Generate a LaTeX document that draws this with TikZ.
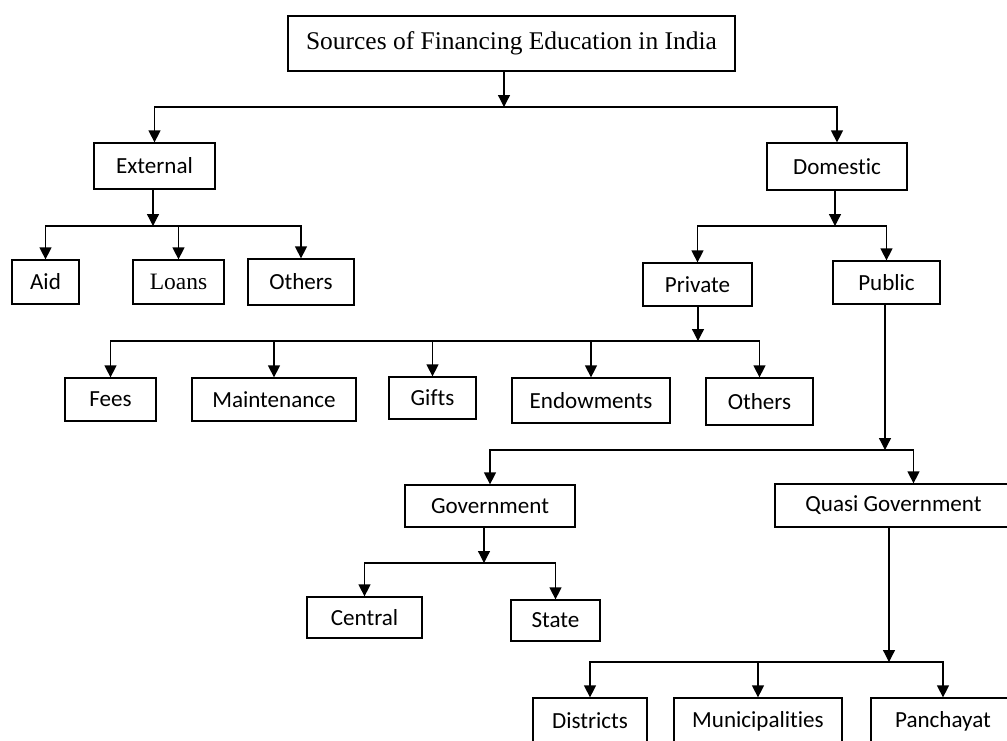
\documentclass[tikz,border=0pt]{standalone}
\usepackage{fontspec}
\setmainfont{Carlito}[Ligatures=NoCommon]
\newfontfamily\timesfont{Liberation Serif}
\usetikzlibrary{arrows.meta}

\begin{document}
\begin{tikzpicture}[x=0.75pt,y=-0.75pt,
  box/.style={draw,line width=0.95pt,inner sep=0pt,font=\fontsize{17.3}{20}\selectfont},
  arr/.style={line width=0.95pt,-{Triangle[length=9pt,width=9pt]}},
  bar/.style={line width=0.95pt,line cap=rect}]
\useasboundingbox (0,0) rectangle (1007,740);
\clip (0,0) rectangle (1007,740);

\node[box,minimum width=335.25pt,minimum height=41.25pt,font=\timesfont\fontsize{19.1}{22}\selectfont] (src) at (511.5,43.5) {Sources of Financing Education in India};

\node[box,minimum width=90.75pt,minimum height=34.5pt] (ext) at (154.5,166) {External};
\node[box,minimum width=105pt,minimum height=35.25pt] (dom) at (837,166.5) {Domestic};

\node[box,minimum width=50.25pt,minimum height=33pt] (aid) at (45.5,282) {Aid};
\node[box,minimum width=68.25pt,minimum height=33pt,font=\timesfont\fontsize{17.6}{20}\selectfont] (loans) at (178.5,282) {Loans};
\node[box,minimum width=79.5pt,minimum height=34.5pt] (extoth) at (301,282) {Others};

\node[box,minimum width=81.75pt,minimum height=32.25pt] (priv) at (697.5,284.5) {Private};
\node[box,minimum width=80.25pt,minimum height=32.25pt] (pub) at (886.5,282.5) {Public};

\node[box,minimum width=68.25pt,minimum height=32.25pt] (fees) at (110.5,399.5) {Fees};
\node[box,minimum width=123pt,minimum height=32.25pt] (maint) at (274,399.5) {Maintenance};
\node[box,minimum width=65.25pt,minimum height=31.5pt] (gifts) at (432.5,398) {Gifts};
\node[box,minimum width=118.5pt,minimum height=33.75pt] (endow) at (591,400.5) {Endowments};
\node[box,minimum width=80.25pt,minimum height=35.25pt] (privoth) at (759.5,401.5) {Others};

\node[box,minimum width=127.5pt,minimum height=31.5pt] (gov) at (490,506) {Government};
\node[box,minimum width=177.75pt,minimum height=32.25pt] (quasi) at (893.5,505.5) {Quasi Government};

\node[box,minimum width=86.25pt,minimum height=30.75pt] (central) at (364.5,617.5) {Central};
\node[box,minimum width=66.75pt,minimum height=30.75pt] (state) at (555.5,620.5) {State};

\node[box,minimum width=85.5pt,minimum height=34.5pt] (dist) at (590,721) {Districts};
\node[box,minimum width=126pt,minimum height=34.5pt] (muni) at (758,721) {Municipalities};
\node[box,minimum width=108pt,minimum height=34.5pt] (panch) at (943,721) {Panchayat};

\coordinate (jsrc) at (504,107);
\coordinate (jext) at (153,226);
\coordinate (jdom) at (835,226);
\coordinate (jpriv) at (698,341);
\coordinate (jpub) at (885,450);
\coordinate (jgov) at (484,563);
\coordinate (jquasi) at (889,662);
\coordinate (qin) at ([xshift=15pt]quasi.north);

\draw[arr] (src.south -| jsrc) -- (jsrc);
\draw[bar] (ext.north |- jsrc) -- (dom.north |- jsrc);
\foreach \c in {ext,dom} \draw[arr] (\c.north |- jsrc) -- (\c.north);

\draw[arr] (ext.south -| jext) -- (jext);
\draw[bar] (aid.north |- jext) -- (extoth.north |- jext);
\foreach \c in {aid,loans,extoth} \draw[arr] (\c.north |- jext) -- (\c.north);

\draw[arr] (dom.south -| jdom) -- (jdom);
\draw[bar] (priv.north |- jdom) -- (pub.north |- jdom);
\foreach \c in {priv,pub} \draw[arr] (\c.north |- jdom) -- (\c.north);

\draw[arr] (priv.south -| jpriv) -- (jpriv);
\draw[bar] (fees.north |- jpriv) -- (privoth.north |- jpriv);
\foreach \c in {fees,maint,gifts,endow,privoth} \draw[arr] (\c.north |- jpriv) -- (\c.north);

\draw[arr] (pub.south -| jpub) -- (jpub);
\draw[bar] (gov.north |- jpub) -- (qin |- jpub);
\draw[arr] (gov.north |- jpub) -- (gov.north);
\draw[arr] (qin |- jpub) -- (qin);

\draw[arr] (gov.south -| jgov) -- (jgov);
\draw[bar] (central.north |- jgov) -- (state.north |- jgov);
\foreach \c in {central,state} \draw[arr] (\c.north |- jgov) -- (\c.north);

\draw[arr] (quasi.south -| jquasi) -- (jquasi);
\draw[bar] (dist.north |- jquasi) -- (panch.north |- jquasi);
\foreach \c in {dist,muni,panch} \draw[arr] (\c.north |- jquasi) -- (\c.north);
\end{tikzpicture}
\end{document}
